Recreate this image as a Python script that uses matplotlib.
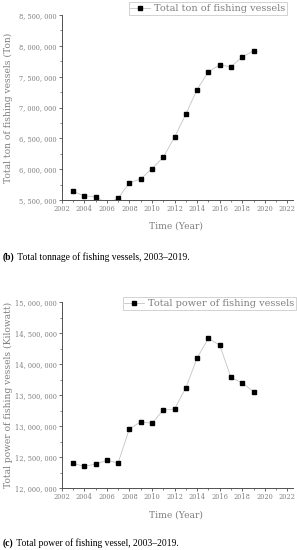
import matplotlib
matplotlib.use("Agg")
import matplotlib.pyplot as plt
from matplotlib.ticker import FuncFormatter, MultipleLocator

years = list(range(2003, 2020))

# total tonnage (ton); 2006 sits below the axis floor in the original
tonnage = [5640000, 5565000, 5555000, 5445000, 5527000, 5780000, 5840000, 6010000,
           6190000, 6520000, 6890000, 7290000, 7580000, 7690000, 7660000, 7820000, 7920000]

# total power (kilowatt)
power = [12400000, 12355000, 12390000, 12450000, 12410000, 12960000, 13070000, 13050000,
         13260000, 13280000, 13620000, 14100000, 14420000, 14310000, 13790000, 13700000, 13560000]

x_ticks = list(range(2002, 2023, 2))
ton_ticks = [5500000, 6000000, 6500000, 7000000, 7500000, 8000000, 8500000]
power_ticks = [12000000, 12500000, 13000000, 13500000, 14000000, 14500000, 15000000]

W, H = 297, 550
GRAY = '#808080'
SPINE = '#505050'
FONT = 'DejaVu Serif'

fig = plt.figure(figsize=(W / 100, H / 100), dpi=100)


def fmt(v, pos):
    return '{:,}'.format(int(v)).replace(',', ', ')


def make_panel(top_px, bot_px, yvals, yticks, ylabel, legend_label, leg_box):
    left_px, right_px = 61.7, 293
    ax = fig.add_axes([left_px / W, 1 - bot_px / H, (right_px - left_px) / W, (bot_px - top_px) / H])
    ax.plot(years, yvals, color='#c4c4c4', linewidth=0.6, marker='s', markersize=3.2,
            markerfacecolor='black', markeredgecolor='black', label=legend_label)
    ax.set_xlim(2002, 2022.5)
    ax.set_ylim(yticks[0], yticks[-1])
    ax.set_xticks(x_ticks)
    ax.set_yticks(yticks)
    ax.xaxis.set_minor_locator(MultipleLocator(1))
    ax.yaxis.set_minor_locator(MultipleLocator(250000))
    ax.yaxis.set_major_formatter(FuncFormatter(fmt))
    for s in ['top', 'right']:
        ax.spines[s].set_visible(False)
    for s in ['left', 'bottom']:
        ax.spines[s].set_color(SPINE)
        ax.spines[s].set_linewidth(0.7)
    ax.tick_params(which='major', direction='out', length=2.0, width=0.6, color=SPINE,
                   labelsize=4.8, labelcolor=GRAY, pad=1.5)
    ax.tick_params(which='minor', direction='out', length=1.1, width=0.5, color=SPINE)
    for lab in ax.get_xticklabels() + ax.get_yticklabels():
        lab.set_family(FONT)
    ax.set_xlabel('Time (Year)', fontsize=6.6, color=GRAY, family=FONT)
    ax.set_ylabel(ylabel, fontsize=6.6, color=GRAY, family=FONT)
    ax.yaxis.set_label_coords(-0.21, 0.5)
    ax.xaxis.set_label_coords(0.494, -0.118)
    leg = ax.legend(loc='upper right', bbox_to_anchor=leg_box, bbox_transform=fig.transFigure,
                    borderaxespad=0, fancybox=False, frameon=True, handlelength=2.0,
                    handletextpad=0.4, borderpad=0.2, prop={'family': FONT, 'size': 7.0})
    leg.get_frame().set_edgecolor('#b0b0b0')
    leg.get_frame().set_linewidth(0.5)
    for t in leg.get_texts():
        t.set_color(GRAY)
    return ax


make_panel(15, 200, tonnage, ton_ticks, 'Total ton of fishing vessels (Ton)',
           'Total ton of fishing vessels', (287 / W, 1 - 2 / H))
make_panel(302.3, 488.3, power, power_ticks, 'Total power of fishing vessels (Kilowatt)',
           'Total power of fishing vessels', (296 / W, 1 - 297 / H))

renderer = fig.canvas.get_renderer()


def caption(y_px, tag, rest):
    t = fig.text(3 / W, 1 - y_px / H, tag, fontsize=6.9, fontweight='bold',
                 family='Liberation Serif', va='center', ha='left')
    bb = t.get_window_extent(renderer)
    x_next = bb.x1 / fig.bbox.width
    fig.text(x_next, 1 - y_px / H, ' ' + rest, fontsize=6.9, family='Liberation Serif',
             va='center', ha='left')


caption(257, '(b)', 'Total tonnage of fishing vessels, 2003\u20132019.')
caption(543, '(c)', 'Total power of fishing vessel, 2003\u20132019.')

fig.savefig('out.png', dpi=100)
